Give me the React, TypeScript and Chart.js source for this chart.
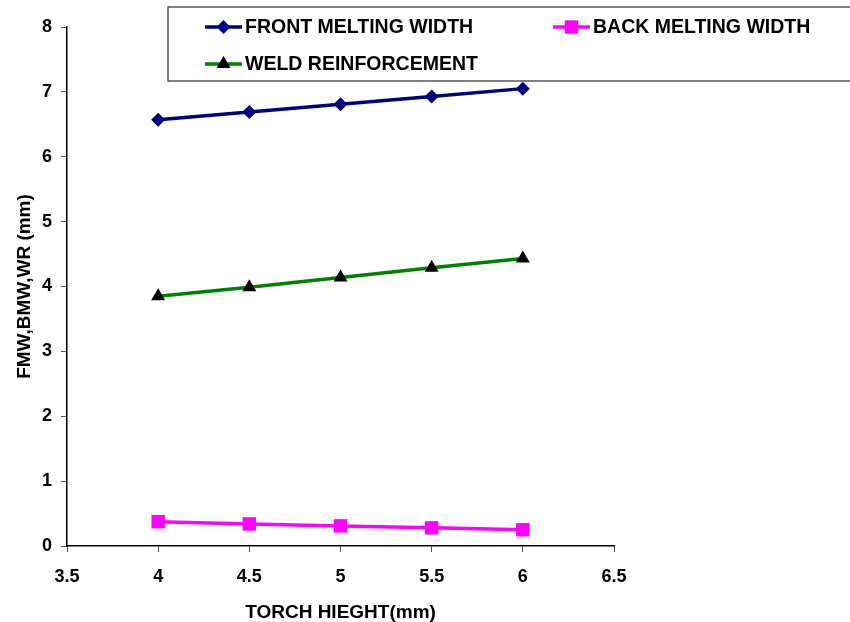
import React, { useEffect, useRef } from 'react';
import { Chart, registerables } from 'chart.js';

Chart.register(...registerables);

// ---- data ----
const torchHeight = [4, 4.5, 5, 5.5, 6];
const frontMeltingWidth = [6.57, 6.69, 6.81, 6.93, 7.05];
const backMeltingWidth = [0.375, 0.34, 0.31, 0.28, 0.25];
const weldReinforcement = [3.85, 3.99, 4.14, 4.29, 4.43];
const seriesLabels = ['FRONT MELTING WIDTH', 'BACK MELTING WIDTH', 'WELD REINFORCEMENT'];
const xTitle = 'TORCH HIEGHT(mm)';
const yTitle = 'FMW,BMW,WR (mm)';
const xTicks = [3.5, 4, 4.5, 5, 5.5, 6, 6.5];
const yTicks = [0, 1, 2, 3, 4, 5, 6, 7, 8];

const FONT = "'Liberation Sans', Arial, Helvetica, sans-serif";

function drawMarker(ctx: CanvasRenderingContext2D, style: string, x: number, y: number, r: number, color: string) {
  ctx.save();
  ctx.fillStyle = color;
  ctx.beginPath();
  if (style === 'rectRot') {
    ctx.moveTo(x - r, y);
    ctx.lineTo(x, y - r);
    ctx.lineTo(x + r, y);
    ctx.lineTo(x, y + r);
  } else if (style === 'rect') {
    const s = r * Math.SQRT1_2;
    ctx.rect(x - s, y - s, 2 * s, 2 * s);
  } else {
    ctx.moveTo(x, y - r);
    ctx.lineTo(x + Math.sin((2 * Math.PI) / 3) * r, y + r / 2);
    ctx.lineTo(x - Math.sin((2 * Math.PI) / 3) * r, y + r / 2);
  }
  ctx.closePath();
  ctx.fill();
  ctx.restore();
}

const legendPlugin = {
  id: 'boxLegend',
  afterDraw(chart: any) {
    const ctx: CanvasRenderingContext2D = chart.ctx;
    ctx.save();
    ctx.strokeStyle = '#555';
    ctx.lineWidth = 1.5;
    ctx.fillStyle = '#fff';
    ctx.fillRect(168, 7, 700, 74);
    ctx.strokeRect(168, 7, 700, 74);
    const slots = [
      { x: 205, y: 27 },
      { x: 553, y: 27 },
      { x: 205, y: 64 },
    ];
    chart.data.datasets.forEach((ds: any, i: number) => {
      const p = slots[i];
      ctx.strokeStyle = ds.borderColor;
      ctx.lineWidth = ds.borderWidth;
      ctx.beginPath();
      ctx.moveTo(p.x, p.y);
      ctx.lineTo(p.x + 37, p.y);
      ctx.stroke();
      drawMarker(ctx, ds.pointStyle, p.x + 18.5, p.y, ds.pointRadius, ds.pointBackgroundColor);
      ctx.fillStyle = '#000';
      ctx.font = `bold 19.5px ${FONT}`;
      ctx.textAlign = 'left';
      ctx.textBaseline = 'middle';
      ctx.fillText(ds.label, p.x + 40, p.y + 1);
    });
    ctx.restore();
  },
};

export default function App() {
  const ref = useRef<HTMLCanvasElement>(null);

  useEffect(() => {
    if (!ref.current) return;
    const toPts = (ys: number[]) => torchHeight.map((x, i) => ({ x, y: ys[i] }));
    const chart = new Chart(ref.current, {
      type: 'line',
      data: {
        datasets: [
          {
            label: seriesLabels[0],
            data: toPts(frontMeltingWidth),
            borderColor: '#000080',
            backgroundColor: '#000080',
            pointBackgroundColor: '#000080',
            pointBorderColor: '#000080',
            borderWidth: 3.5,
            pointStyle: 'rectRot',
            pointRadius: 7,
            pointBorderWidth: 0,
          },
          {
            label: seriesLabels[1],
            data: toPts(backMeltingWidth),
            borderColor: '#FF00FF',
            backgroundColor: '#FF00FF',
            pointBackgroundColor: '#FF00FF',
            pointBorderColor: '#FF00FF',
            borderWidth: 3.5,
            pointStyle: 'rect',
            pointRadius: 9.5,
            pointBorderWidth: 0,
          },
          {
            label: seriesLabels[2],
            data: toPts(weldReinforcement),
            borderColor: '#008000',
            backgroundColor: '#000000',
            pointBackgroundColor: '#000000',
            pointBorderColor: '#000000',
            borderWidth: 3.5,
            pointStyle: 'triangle',
            pointRadius: 8,
            pointBorderWidth: 0,
          },
        ] as any,
      },
      options: {
        animation: false,
        responsive: true,
        maintainAspectRatio: false,
        layout: { padding: { top: 27, right: 236, bottom: 0, left: 0 } },
        plugins: {
          legend: { display: false },
          tooltip: { enabled: false },
        },
        scales: {
          x: {
            type: 'linear',
            min: xTicks[0],
            max: xTicks[xTicks.length - 1],
            afterBuildTicks: (s: any) => {
              s.ticks = xTicks.map((v) => ({ value: v }));
            },
            afterFit: (s: any) => {
              s.height = 76;
            },
            grid: { drawOnChartArea: false, drawTicks: true, tickLength: 6, color: '#555' },
            border: { display: true, color: '#000', width: 1.5 },
            ticks: {
              color: '#000',
              font: { family: FONT, size: 18, weight: 'bold' },
              padding: 14,
              maxRotation: 0,
              autoSkip: false,
              callback: (v: any) => String(v),
            },
            title: {
              display: true,
              text: xTitle,
              color: '#000',
              font: { family: FONT, size: 19, weight: 'bold' },
              padding: { top: 0, bottom: -2 },
            },
          },
          y: {
            type: 'linear',
            min: yTicks[0],
            max: yTicks[yTicks.length - 1],
            afterBuildTicks: (s: any) => {
              s.ticks = yTicks.map((v) => ({ value: v }));
            },
            afterFit: (s: any) => {
              s.width = 67;
            },
            grid: { drawOnChartArea: false, drawTicks: true, tickLength: 6, color: '#555' },
            border: { display: true, color: '#000', width: 1.5 },
            ticks: {
              color: '#000',
              font: { family: FONT, size: 18, weight: 'bold' },
              padding: 9,
              autoSkip: false,
              callback: (v: any) => String(v),
            },
            title: {
              display: true,
              text: yTitle,
              color: '#000',
              font: { family: FONT, size: 19, weight: 'bold' },
              padding: { top: 13, bottom: 0 },
            },
          },
        },
      } as any,
      plugins: [legendPlugin],
    });
    return () => chart.destroy();
  }, []);

  return (
    <div style={{ position: 'fixed', left: 0, top: 0, width: 850, height: 622, background: '#fff' }}>
      <canvas ref={ref} />
    </div>
  );
}
